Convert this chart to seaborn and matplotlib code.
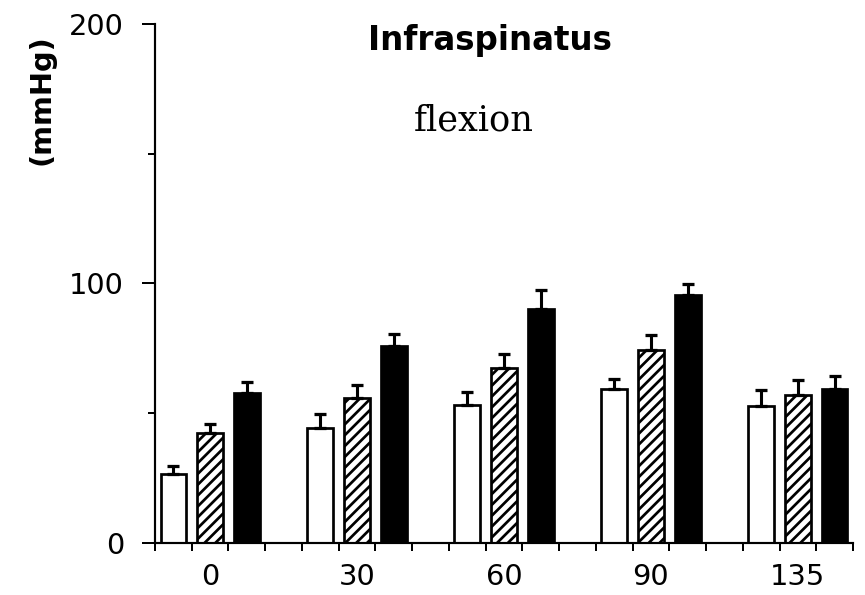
import numpy as np
import pandas as pd
import matplotlib
matplotlib.use("Agg")
import matplotlib.pyplot as plt
from matplotlib.ticker import FixedLocator
import seaborn as sns

# Shoulder flexion angle (degrees) and intramuscular pressure (mmHg)
angles = ["0", "30", "60", "90", "135"]
series_names = ["open", "hatched", "filled"]
open_vals = [26.6, 44.3, 53.2, 59.3, 52.8]
hatched_vals = [42.4, 55.9, 67.4, 74.4, 57.0]
filled_vals = [57.8, 75.9, 90.2, 95.6, 59.3]
open_err = [3.0, 5.4, 5.0, 3.9, 6.0]
hatched_err = [3.5, 5.0, 5.4, 5.7, 5.8]
filled_err = [4.2, 4.6, 7.3, 4.2, 5.0]
y_ticks = [0, 100, 200]
y_minor = [50, 150]

sns.set_theme(style="ticks")
plt.rcParams["font.family"] = ["DejaVu Sans"]
plt.rcParams["hatch.linewidth"] = 1.5
plt.rcParams["hatch.color"] = "black"

df = pd.DataFrame({
    "angle": angles * 3,
    "series": np.repeat(series_names, len(angles)),
    "pressure": open_vals + hatched_vals + filled_vals,
})

fig = plt.figure(figsize=(865 / 130, 595 / 130), dpi=130)
ax = fig.add_axes([0.1792, 0.0874, 0.8069, 0.8723])

sns.barplot(
    data=df, x="angle", y="pressure", hue="series",
    order=angles, hue_order=series_names,
    palette=["white", "white", "black"], saturation=1,
    edgecolor="black", linewidth=1.5,
    width=0.75, gap=0.3, errorbar=None, legend=False, ax=ax,
)

# diagonal hatching on the middle series
for bar in ax.containers[1]:
    bar.set_hatch("////")

# upper-only error bars on top of each bar
for container, errs in zip(ax.containers, [open_err, hatched_err, filled_err]):
    xs = [b.get_x() + b.get_width() / 2 for b in container]
    ys = [b.get_height() for b in container]
    ax.errorbar(xs, ys, yerr=[np.zeros(len(errs)), errs], fmt="none",
                ecolor="black", elinewidth=1.7, capsize=3.3, capthick=1.8,
                zorder=1)

ax.set_xlim(-0.375, 4.375)
ax.set_ylim(0, 200)
ax.set_yticks(y_ticks)
ax.yaxis.set_minor_locator(FixedLocator(y_minor))
ax.xaxis.set_minor_locator(FixedLocator([(j - 1.5) / 4 for j in range(20)]))

ax.tick_params(axis="y", which="major", direction="out", length=7.2, width=1.1,
               labelsize=16, pad=10, colors="black")
ax.tick_params(axis="y", which="minor", direction="out", length=3.8, width=1.1,
               colors="black")
ax.tick_params(axis="x", which="major", length=0, labelsize=16, pad=11,
               colors="black")
ax.tick_params(axis="x", which="minor", direction="out", length=4.4, width=1.1,
               colors="black")

sns.despine(ax=ax)
for side in ["left", "bottom"]:
    ax.spines[side].set_linewidth(1.2)
    ax.spines[side].set_color("black")

ax.set_xlabel("")
ax.set_ylabel("(mmHg)", fontsize=16, fontweight="bold", color="black")
ax.yaxis.set_label_coords(-0.143, 0.854)

ax.text(0.48, 0.95, "Infraspinatus", transform=ax.transAxes, ha="center",
        va="baseline", fontsize=18, fontweight="bold", color="black")
ax.text(0.457, 0.794, "flexion", transform=ax.transAxes, ha="center",
        va="baseline", fontsize=19.5, family=["DejaVu Serif"], color="black")

fig.savefig("out.png", dpi=130, facecolor="white")
